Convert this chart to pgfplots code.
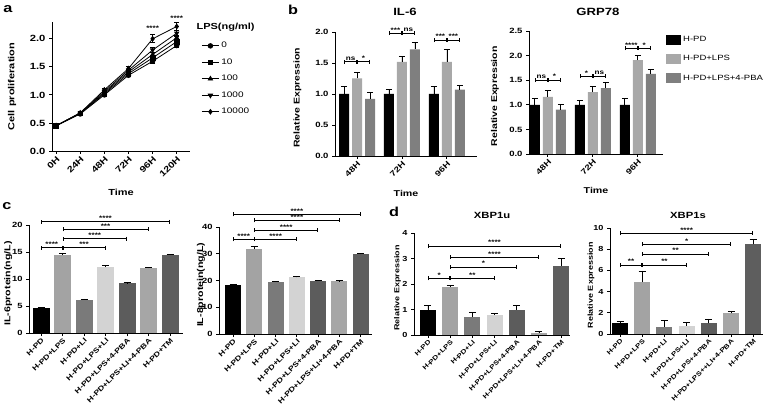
\documentclass[border=0pt]{standalone}
\usepackage{pgfplots}
\pgfplotsset{compat=1.18}
\usepackage{fontspec}
\setmainfont{Liberation Sans}[FakeStretch=1.25]
\usetikzlibrary{arrows.meta}

\definecolor{bLPS}{HTML}{A8A8A8}
\definecolor{bPBA}{HTML}{7F7F7F}
\definecolor{cLPS}{HTML}{A3A3A3}
\definecolor{cLI}{HTML}{7A7A7A}
\definecolor{cLPSLI}{HTML}{D3D3D3}
\definecolor{cPBA}{HTML}{5C5C5C}
\definecolor{cLPSLIPBA}{HTML}{A6A6A6}
\definecolor{cTM}{HTML}{5E5E5E}

\newcommand{\fsz}[1]{\fontsize{#1}{#1}\selectfont}

\pgfplotsset{
  prism/.style={
    scale only axis, axis lines=left, clip=false,
    axis line style={line width=0.9pt, -},
    every tick/.style={black, line width=0.9pt},
    tick align=outside, major tick length=3pt,
    /pgf/number format/assume math mode=true,
  },
  ebp/.style={
    /pgfplots/error bars/y dir=plus, /pgfplots/error bars/y explicit,
    /pgfplots/error bars/error bar style={black, line width=0.8pt},
    /pgfplots/error bars/error mark options={rotate=90, black, mark size=#1, line width=0.8pt}},
  bstyle/.style={ybar, bar width=10pt, bar shift=0pt, fill=#1, draw=none, ebp=3pt},
  cbar/.style n args={2}{ybar, bar width=#2, bar shift=0pt, fill=#1, draw=none, ebp=3.5pt},
  lstyle/.style={black, line width=0.8pt, mark size=2.3pt,
    /pgfplots/error bars/y dir=both, /pgfplots/error bars/y explicit,
    /pgfplots/error bars/error bar style={black, line width=0.8pt},
    /pgfplots/error bars/error mark options={rotate=90, black, mark size=2.5pt, line width=0.8pt}},
  catx/.style={xtick={0,...,6}, xticklabel style={rotate=45, anchor=north east, inner sep=1pt, font=\bfseries\fsz{#1}}},
}
\tikzset{
  sig/.style={line width=0.8pt, {Bar[width=4pt,line width=0.8pt]}-{Bar[width=4pt,line width=0.8pt]}},
  st/.style={midway, above, inner sep=0.8pt, font=\bfseries\fsz{6.5}}}

\begin{document}
\begin{tikzpicture}
\path[use as bounding box] (0,0) rectangle (778pt,404pt);

% ---------------- panel a ----------------
\node[font=\bfseries\fsz{13}] at (8pt,395pt) {a};
\node[font=\bfseries\fsz{8.8}, anchor=west] at (193pt,377pt) {LPS(ng/ml)};
\begin{axis}[prism, at={(52pt,253pt)}, anchor=south west, width=138pt, height=129pt,
  xmin=-0.17, xmax=5.55, ymin=0, ymax=2.3,
  xtick={0,...,5}, xticklabels={0H,24H,48H,72H,96H,120H},
  ytick={0,0.5,1,1.5,2},
  yticklabel style={font=\bfseries\fsz{9}, /pgf/number format/.cd, fixed, fixed zerofill, precision=1},
  xticklabel style={rotate=45, anchor=north east, inner sep=1pt, font=\bfseries\fsz{8.5}},
  xlabel={Time}, ylabel={Cell proliferation},
  xlabel style={at={(axis description cs:0.5,-0.318)}, anchor=center, font=\bfseries\fsz{8.8}},
  ylabel style={at={(axis description cs:-0.29,0.5)}, anchor=center, font=\bfseries\fsz{8.8}},
  legend style={at={(axis description cs:1.06,0.875)}, anchor=north west, draw=none, fill=none,
    font=\fsz{8}, row sep=5.4pt, cells={anchor=west}},
]
\addlegendimage{black, line width=0.8pt, mark=*, mark size=2.3pt}\addlegendentry{0}
\addlegendimage{black, line width=0.8pt, mark=square*, mark size=2.3pt}\addlegendentry{10}
\addlegendimage{black, line width=0.8pt, mark=triangle*, mark size=2.5pt}\addlegendentry{100}
\addlegendimage{black, line width=0.8pt, mark=triangle*, mark size=2.5pt, mark options={rotate=180}}\addlegendentry{1000}
\addlegendimage{black, line width=0.8pt, mark=diamond*, mark size=2.3pt}\addlegendentry{10000}
\addplot[mark=*, lstyle] coordinates {(0,0.45) +- (0,0.01) (1,0.66) +- (0,0.01) (2,1.00) +- (0,0.02) (3,1.35) +- (0,0.02) (4,1.60) +- (0,0.03) (5,1.88) +- (0,0.04)};
\addplot[mark=square*, lstyle] coordinates {(0,0.45) +- (0,0.01) (1,0.67) +- (0,0.01) (2,1.02) +- (0,0.02) (3,1.38) +- (0,0.02) (4,1.66) +- (0,0.03) (5,1.95) +- (0,0.04)};
\addplot[mark=triangle*, lstyle] coordinates {(0,0.45) +- (0,0.01) (1,0.67) +- (0,0.01) (2,1.04) +- (0,0.02) (3,1.41) +- (0,0.02) (4,1.72) +- (0,0.03) (5,2.02) +- (0,0.04)};
\addplot[mark=triangle*, mark options={rotate=180}, lstyle] coordinates {(0,0.45) +- (0,0.01) (1,0.68) +- (0,0.01) (2,1.06) +- (0,0.02) (3,1.44) +- (0,0.02) (4,1.80) +- (0,0.04) (5,2.10) +- (0,0.05)};
\addplot[mark=diamond*, lstyle] coordinates {(0,0.45) +- (0,0.01) (1,0.68) +- (0,0.01) (2,1.09) +- (0,0.02) (3,1.47) +- (0,0.03) (4,2.00) +- (0,0.07) (5,2.22) +- (0,0.07)};
\node[font=\bfseries\fsz{6.5}] at (axis cs:4,2.18) {****};
\node[font=\bfseries\fsz{6.5}] at (axis cs:5,2.37) {****};
\end{axis}

% ---------------- panel b: IL-6 ----------------
\node[font=\bfseries\fsz{13}] at (293pt,394pt) {b};
\node[font=\bfseries\fsz{10.5}] at (405pt,392pt) {IL-6};
\begin{axis}[prism, at={(335pt,248pt)}, anchor=south west, width=142pt, height=124pt,
  xmin=-0.49, xmax=2.67, ymin=0, ymax=2.0,
  xtick={0,1,2}, xticklabels={48H,72H,96H},
  ytick={0,0.5,1,1.5,2},
  yticklabel style={font=\bfseries\fsz{7.6}, /pgf/number format/.cd, fixed, fixed zerofill, precision=1},
  xticklabel style={rotate=45, anchor=north east, inner sep=1pt, font=\bfseries\fsz{7.8}},
  xlabel={Time}, ylabel={Relative Expression},
  xlabel style={at={(axis description cs:0.5,-0.30)}, anchor=center, font=\bfseries\fsz{8.5}},
  ylabel style={at={(axis description cs:-0.265,0.47)}, anchor=center, font=\bfseries\fsz{8.4}},
]
\addplot[bstyle=black] coordinates {(-0.289,1.00) +- (0,0.12) (0.711,1.00) +- (0,0.08) (1.711,1.00) +- (0,0.12)};
\addplot[bstyle=bLPS] coordinates {(0,1.25) +- (0,0.10) (1,1.52) +- (0,0.08) (2,1.52) +- (0,0.20)};
\addplot[bstyle=bPBA] coordinates {(0.289,0.92) +- (0,0.10) (1.289,1.72) +- (0,0.11) (2.289,1.07) +- (0,0.07)};
\draw[sig] (axis cs:-0.289,1.52) -- (axis cs:0,1.52) node[st] {ns};
\draw[sig] (axis cs:0,1.52) -- (axis cs:0.289,1.52) node[st] {*};
\draw[sig] (axis cs:0.711,1.98) -- (axis cs:1,1.98) node[st] {***};
\draw[sig] (axis cs:1,1.98) -- (axis cs:1.289,1.98) node[st] {ns};
\draw[sig] (axis cs:1.711,1.87) -- (axis cs:2,1.87) node[st] {***};
\draw[sig] (axis cs:2,1.87) -- (axis cs:2.289,1.87) node[st] {***};
\end{axis}

% ---------------- panel b: GRP78 ----------------
\node[font=\bfseries\fsz{10.5}] at (598pt,392pt) {GRP78};
\begin{axis}[prism, at={(529pt,250pt)}, anchor=south west, width=134pt, height=123pt,
  xmin=-0.42, xmax=2.56, ymin=0, ymax=2.5,
  xtick={0,1,2}, xticklabels={48H,72H,96H},
  ytick={0,0.5,1,1.5,2,2.5},
  yticklabel style={font=\bfseries\fsz{7.6}, /pgf/number format/.cd, fixed, fixed zerofill, precision=1},
  xticklabel style={rotate=45, anchor=north east, inner sep=1pt, font=\bfseries\fsz{7.8}},
  xlabel={Time}, ylabel={Relative Expression},
  xlabel style={at={(axis description cs:0.5,-0.293)}, anchor=center, font=\bfseries\fsz{8.5}},
  ylabel style={at={(axis description cs:-0.255,0.47)}, anchor=center, font=\bfseries\fsz{8.4}},
  legend style={at={(axis description cs:1.0,0.99)}, anchor=north west, draw=none, fill=none,
    font=\fsz{7.6}, row sep=8.4pt, cells={anchor=west}},
  legend image code/.code={\fill[#1] (0pt,-5pt) rectangle (15pt,5pt);},
]
\addlegendimage{fill=black, draw=none}\addlegendentry{H-PD}
\addlegendimage{fill=bLPS, draw=none}\addlegendentry{H-PD+LPS}
\addlegendimage{fill=bPBA, draw=none}\addlegendentry{H-PD+LPS+4-PBA}
\addplot[bstyle=black] coordinates {(-0.289,1.00) +- (0,0.12) (0.711,1.00) +- (0,0.08) (1.711,1.00) +- (0,0.12)};
\addplot[bstyle=bLPS] coordinates {(0,1.16) +- (0,0.13) (1,1.26) +- (0,0.11) (2,1.91) +- (0,0.10)};
\addplot[bstyle=bPBA] coordinates {(0.289,0.90) +- (0,0.10) (1.289,1.34) +- (0,0.12) (2.289,1.63) +- (0,0.08)};
\draw[sig] (axis cs:-0.289,1.50) -- (axis cs:0,1.50) node[st] {ns};
\draw[sig] (axis cs:0,1.50) -- (axis cs:0.289,1.50) node[st] {*};
\draw[sig] (axis cs:0.711,1.58) -- (axis cs:1,1.58) node[st] {*};
\draw[sig] (axis cs:1,1.58) -- (axis cs:1.289,1.58) node[st] {ns};
\draw[sig] (axis cs:1.711,2.15) -- (axis cs:2,2.15) node[st] {****};
\draw[sig] (axis cs:2,2.15) -- (axis cs:2.289,2.15) node[st] {*};
\end{axis}

% ---------------- panel c left ----------------
\node[font=\bfseries\fsz{13}] at (7pt,198pt) {c};
\begin{axis}[prism, catx=7, at={(29pt,71pt)}, anchor=south west, width=154pt, height=108pt,
  xmin=-0.56, xmax=6.6, ymin=0, ymax=20,
  ytick={0,5,10,15,20},
  xticklabels={H-PD,H-PD+LPS,H-PD+LI,H-PD+LPS+LI,H-PD+LPS+4-PBA,H-PD+LPS+LI+4-PBA,H-PD+TM},
  yticklabel style={font=\bfseries\fsz{7.5}},
  ylabel={IL-6protein(ng/L)},
  ylabel style={at={(axis description cs:-0.135,0.46)}, anchor=center, font=\bfseries\fsz{8.5}},
]
\addplot[cbar={black}{17pt}] coordinates {(0,4.6) +- (0,0.1)};
\addplot[cbar={cLPS}{17pt}] coordinates {(1,14.4) +- (0,0.3)};
\addplot[cbar={cLI}{17pt}] coordinates {(2,6.2) +- (0,0.1)};
\addplot[cbar={cLPSLI}{17pt}] coordinates {(3,12.3) +- (0,0.25)};
\addplot[cbar={cPBA}{17pt}] coordinates {(4,9.2) +- (0,0.15)};
\addplot[cbar={cLPSLIPBA}{17pt}] coordinates {(5,12.0) +- (0,0.2)};
\addplot[cbar={cTM}{17pt}] coordinates {(6,14.5) +- (0,0.1)};
\draw[sig] (axis cs:0,15.8) -- (axis cs:1,15.8) node[st] {****};
\draw[sig] (axis cs:1,15.8) -- (axis cs:3,15.8) node[st] {***};
\draw[sig] (axis cs:1,17.5) -- (axis cs:4,17.5) node[st] {****};
\draw[sig] (axis cs:1,19.2) -- (axis cs:5,19.2) node[st] {***};
\draw[sig] (axis cs:0,20.6) -- (axis cs:6,20.6) node[st] {****};
\end{axis}

% ---------------- panel c right ----------------
\begin{axis}[prism, catx=7, at={(219pt,70pt)}, anchor=south west, width=153pt, height=107pt,
  xmin=-0.66, xmax=6.53, ymin=0, ymax=40,
  ytick={0,10,20,30,40},
  xticklabels={H-PD,H-PD+LPS,H-PD+LI,H-PD+LPS+LI,H-PD+LPS+4-PBA,H-PD+LPS+LI+4-PBA,H-PD+TM},
  yticklabel style={font=\bfseries\fsz{7.5}},
  ylabel={IL-8protein(ng/L)},
  ylabel style={at={(axis description cs:-0.118,0.46)}, anchor=center, font=\bfseries\fsz{8.5}},
]
\addplot[cbar={black}{16pt}] coordinates {(0,18.2) +- (0,0.2)};
\addplot[cbar={cLPS}{16pt}] coordinates {(1,31.7) +- (0,0.9)};
\addplot[cbar={cLI}{16pt}] coordinates {(2,19.6) +- (0,0.2)};
\addplot[cbar={cLPSLI}{16pt}] coordinates {(3,21.2) +- (0,0.3)};
\addplot[cbar={cPBA}{16pt}] coordinates {(4,20.0) +- (0,0.15)};
\addplot[cbar={cLPSLIPBA}{16pt}] coordinates {(5,19.8) +- (0,0.15)};
\addplot[cbar={cTM}{16pt}] coordinates {(6,29.9) +- (0,0.2)};
\draw[sig] (axis cs:0,35.4) -- (axis cs:1,35.4) node[st] {****};
\draw[sig] (axis cs:1,35.4) -- (axis cs:3,35.4) node[st] {****};
\draw[sig] (axis cs:1,38.8) -- (axis cs:4,38.8) node[st] {****};
\draw[sig] (axis cs:1,42.5) -- (axis cs:5,42.5) node[st] {****};
\draw[sig] (axis cs:0,44.7) -- (axis cs:6,44.7) node[st] {****};
\end{axis}

% ---------------- panel d left ----------------
\node[font=\bfseries\fsz{13}] at (394pt,192pt) {d};
\node[font=\bfseries\fsz{9}] at (492pt,189pt) {XBP1u};
\begin{axis}[prism, catx=6.4, at={(414pt,69pt)}, anchor=south west, width=156pt, height=102pt,
  xmin=-0.63, xmax=6.4, ymin=0, ymax=4,
  ytick={0,1,2,3,4},
  xticklabels={H-PD,H-PD+LPS,H-PD+LI,H-PD+LPS+LI,H-PD+LPS+4-PBA,H-PD+LPS+LI+4-PBA,H-PD+TM},
  yticklabel style={font=\bfseries\fsz{7.3}},
  ylabel={Relative Expression},
  ylabel style={at={(axis description cs:-0.105,0.46)}, anchor=center, font=\bfseries\fsz{7.2}},
]
\addplot[cbar={black}{16pt}] coordinates {(0,1.00) +- (0,0.15)};
\addplot[cbar={cLPS}{16pt}] coordinates {(1,1.88) +- (0,0.07)};
\addplot[cbar={cLI}{16pt}] coordinates {(2,0.70) +- (0,0.17)};
\addplot[cbar={cLPSLI}{16pt}] coordinates {(3,0.80) +- (0,0.04)};
\addplot[cbar={cPBA}{16pt}] coordinates {(4,1.00) +- (0,0.15)};
\addplot[cbar={cLPSLIPBA}{16pt}] coordinates {(5,0.08) +- (0,0.07)};
\addplot[cbar={cTM}{16pt}] coordinates {(6,2.72) +- (0,0.27)};
\draw[sig] (axis cs:0,2.22) -- (axis cs:1,2.22) node[st] {*};
\draw[sig] (axis cs:1,2.22) -- (axis cs:3,2.22) node[st] {**};
\draw[sig] (axis cs:1,2.67) -- (axis cs:4,2.67) node[st] {*};
\draw[sig] (axis cs:1,3.05) -- (axis cs:5,3.05) node[st] {****};
\draw[sig] (axis cs:0,3.49) -- (axis cs:6,3.49) node[st] {****};
\end{axis}

% ---------------- panel d right ----------------
\node[font=\bfseries\fsz{9}] at (688pt,189pt) {XBP1s};
\begin{axis}[prism, catx=6.4, at={(610pt,70pt)}, anchor=south west, width=153pt, height=106pt,
  xmin=-0.45, xmax=6.44, ymin=0, ymax=10,
  ytick={0,2,4,6,8,10},
  xticklabels={H-PD,H-PD+LPS,H-PD+LI,H-PD+LPS+LI,H-PD+LPS+4-PBA,H-PD+LPS++LI+4-PBA,H-PD+TM},
  yticklabel style={font=\bfseries\fsz{7.3}},
  ylabel={Relative Expression},
  ylabel style={at={(axis description cs:-0.124,0.46)}, anchor=center, font=\bfseries\fsz{7.2}},
]
\addplot[cbar={black}{16pt}] coordinates {(0,1.05) +- (0,0.15)};
\addplot[cbar={cLPS}{16pt}] coordinates {(1,4.90) +- (0,1.05)};
\addplot[cbar={cLI}{16pt}] coordinates {(2,0.70) +- (0,0.55)};
\addplot[cbar={cLPSLI}{16pt}] coordinates {(3,0.80) +- (0,0.30)};
\addplot[cbar={cPBA}{16pt}] coordinates {(4,1.00) +- (0,0.42)};
\addplot[cbar={cLPSLIPBA}{16pt}] coordinates {(5,1.95) +- (0,0.22)};
\addplot[cbar={cTM}{16pt}] coordinates {(6,8.45) +- (0,0.45)};
\draw[sig] (axis cs:0,6.5) -- (axis cs:1,6.5) node[st] {**};
\draw[sig] (axis cs:1,6.5) -- (axis cs:3,6.5) node[st] {**};
\draw[sig] (axis cs:1,7.55) -- (axis cs:4,7.55) node[st] {**};
\draw[sig] (axis cs:1,8.46) -- (axis cs:5,8.46) node[st] {*};
\draw[sig] (axis cs:0,9.5) -- (axis cs:6,9.5) node[st] {****};
\end{axis}
\end{tikzpicture}
\end{document}
